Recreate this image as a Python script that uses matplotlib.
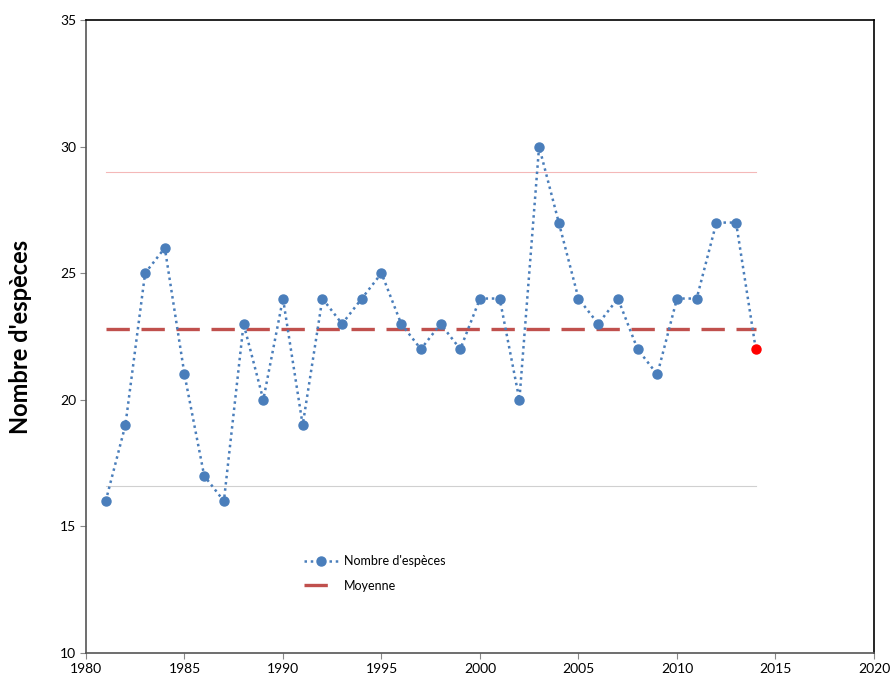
import matplotlib
matplotlib.use("Agg")
import matplotlib.pyplot as plt

plt.rcParams['font.family'] = ['Lato', 'DejaVu Sans']

years = list(range(1981, 2015))
especes = [16, 19, 25, 26, 21, 17, 16, 23, 20, 24, 19, 24, 23, 24, 25, 23, 22,
           23, 22, 24, 24, 20, 30, 27, 24, 23, 24, 22, 21, 24, 24, 27, 27, 22]
moyenne = 22.8
borne_haute = 29.0
borne_basse = 16.6

fig = plt.figure(figsize=(8.93, 6.79), dpi=100)
ax = fig.add_axes([0.0963, 0.0383, 0.8824, 0.9322])

blue = '#4a7ebb'
ax.plot(years, [borne_haute] * len(years), color='#f4b8b8', lw=0.8, zorder=1)
ax.plot(years, [borne_basse] * len(years), color='#d0d0d0', lw=0.8, zorder=1)
ax.plot(years, [moyenne] * len(years), color='#c0504d', lw=2.4,
        dashes=(7, 3.5), zorder=2, label='Moyenne')
ax.plot(years[:-1], especes[:-1], color=blue, lw=1.8, ls=(0, (1, 1.5)),
        marker='o', ms=6.5, mfc=blue, mec=blue, zorder=3, label="Nombre d'espèces")
ax.plot(years[-2:], especes[-2:], color=blue, lw=1.8, ls=(0, (1, 1.5)), zorder=3)
ax.plot(years[-1], especes[-1], 'o', color='#ff0000', ms=6.5, zorder=4)

ax.set_xlim(1980, 2020)
ax.set_ylim(10, 35)
ax.set_xticks(range(1980, 2021, 5))
ax.set_yticks(range(10, 36, 5))
ax.tick_params(axis='both', direction='out', length=4, width=0.8, color='#888888',
               labelsize=10, pad=3)
for s in ax.spines.values():
    s.set_color('#000000')
    s.set_linewidth(1.2)
ax.spines['left'].set_color('#555555')
ax.spines['bottom'].set_color('#555555')

ax.set_ylabel("Nombre d'espèces", fontsize=17, fontweight='bold', labelpad=20)

h, l = ax.get_legend_handles_labels()
leg = ax.legend(h[::-1], l[::-1], loc='upper left', bbox_to_anchor=(0.262, 0.172),
                frameon=False, fontsize=9, handlelength=2.8, handletextpad=0.4,
                labelspacing=1.0)

fig.savefig('out.png', dpi=100)
